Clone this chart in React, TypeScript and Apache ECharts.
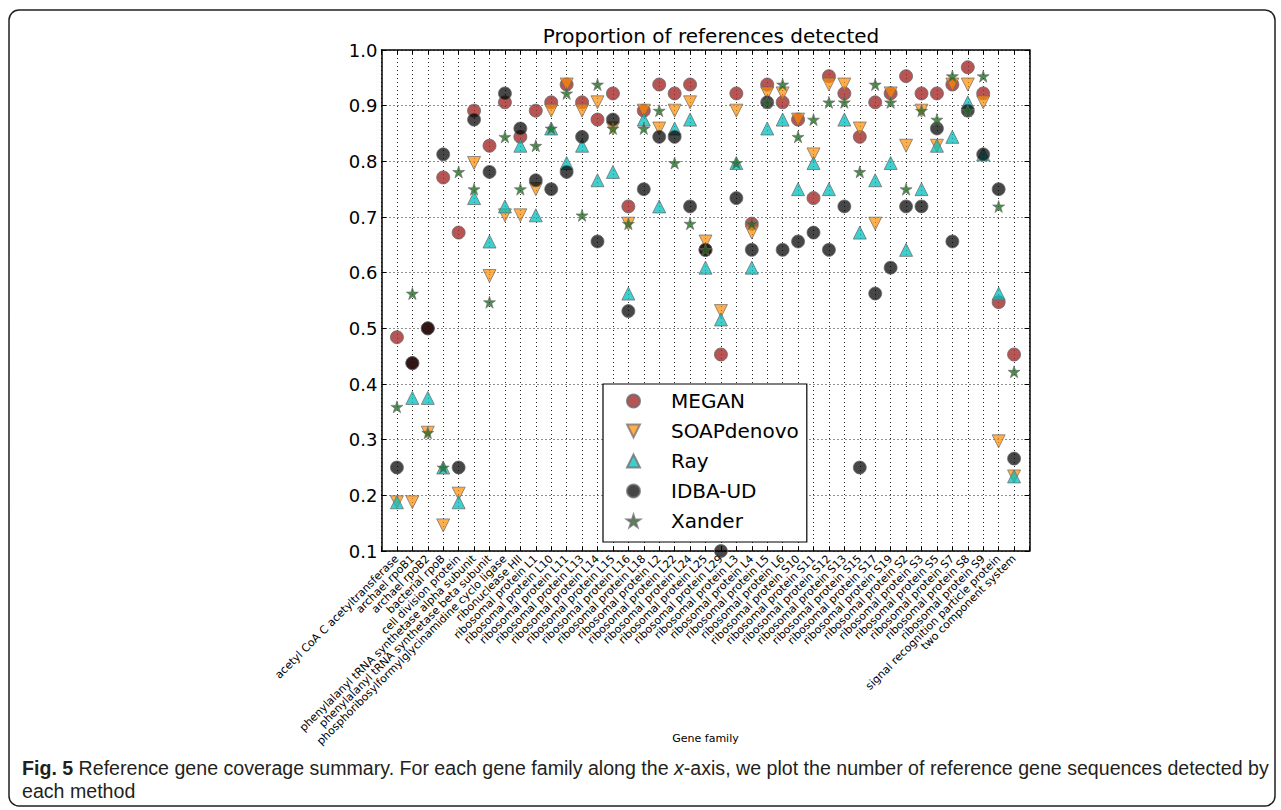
import React, { useEffect, useRef } from "react";
import * as echarts from "echarts";

const CATEGORIES = [
  "acetyl CoA C acetyltransferase",
  "archael rpoB1",
  "archael rpoB2",
  "bacterial rpoB",
  "cell division protein",
  "phenylalanyl tRNA synthetase alpha subunit",
  "phenylalanyl tRNA synthetase beta subunit",
  "phosphoribosylformylglycinamidine cyclo ligase",
  "ribonuclease HII",
  "ribosomal protein L1",
  "ribosomal protein L10",
  "ribosomal protein L11",
  "ribosomal protein L13",
  "ribosomal protein L14",
  "ribosomal protein L15",
  "ribosomal protein L16",
  "ribosomal protein L18",
  "ribosomal protein L2",
  "ribosomal protein L22",
  "ribosomal protein L24",
  "ribosomal protein L25",
  "ribosomal protein L29",
  "ribosomal protein L3",
  "ribosomal protein L4",
  "ribosomal protein L5",
  "ribosomal protein L6",
  "ribosomal protein S10",
  "ribosomal protein S11",
  "ribosomal protein S12",
  "ribosomal protein S13",
  "ribosomal protein S15",
  "ribosomal protein S17",
  "ribosomal protein S19",
  "ribosomal protein S2",
  "ribosomal protein S3",
  "ribosomal protein S5",
  "ribosomal protein S7",
  "ribosomal protein S8",
  "ribosomal protein S9",
  "signal recognition particle protein",
  "two component system",
];

const MEGAN = [
  0.484, 0.4375, 0.5, 0.771, 0.672, 0.891, 0.828, 0.906, 0.844, 0.891,
  0.906, 0.938, 0.906, 0.875, 0.922, 0.719, 0.891, 0.938, 0.922, 0.938,
  0.641, 0.453, 0.922, 0.688, 0.938, 0.906, 0.875, 0.734, 0.953, 0.922,
  0.844, 0.906, 0.922, 0.953, 0.922, 0.922, 0.938, 0.969, 0.922, 0.547,
  0.453,
];
const SOAPDENOVO = [
  0.1875, 0.1875, 0.3125, 0.146, 0.203, 0.797, 0.594, 0.703, 0.703, 0.75,
  0.891, 0.938, 0.891, 0.906, 0.859, 0.688, 0.891, 0.859, 0.891, 0.906,
  0.656, 0.531, 0.891, 0.672, 0.922, 0.922, 0.875, 0.8125, 0.938, 0.938,
  0.859, 0.688, 0.922, 0.828, 0.891, 0.828, 0.938, 0.938, 0.906, 0.297,
  0.234,
];
const RAY = [
  0.1875, 0.375, 0.375, 0.25, 0.1875, 0.734, 0.656, 0.719, 0.828, 0.703,
  0.859, 0.797, 0.828, 0.766, 0.781, 0.5625, 0.875, 0.719, 0.859, 0.875,
  0.609, 0.516, 0.797, 0.609, 0.859, 0.875, 0.75, 0.797, 0.75, 0.875,
  0.672, 0.766, 0.797, 0.641, 0.75, 0.828, 0.844, 0.906, 0.8125, 0.5625,
  0.234,
];
const IDBA_UD = [
  0.25, 0.4375, 0.5, 0.8125, 0.25, 0.875, 0.781, 0.922, 0.859, 0.766,
  0.75, 0.781, 0.844, 0.656, 0.875, 0.531, 0.75, 0.844, 0.844, 0.719,
  0.641, 0.1, 0.734, 0.641, 0.906, 0.641, 0.656, 0.672, 0.641, 0.719,
  0.25, 0.5625, 0.609, 0.719, 0.719, 0.859, 0.656, 0.891, 0.8125, 0.75,
  0.266,
];
const XANDER = [
  0.359, 0.5625, 0.3125, 0.25, 0.781, 0.75, 0.547, 0.844, 0.75, 0.828,
  0.859, 0.922, 0.703, 0.938, 0.859, 0.688, 0.859, 0.891, 0.797, 0.688,
  0.641, null, 0.797, 0.688, 0.906, 0.938, 0.844, 0.875, 0.906, 0.906,
  0.781, 0.938, 0.906, 0.75, 0.891, 0.875, 0.953, 0.891, 0.953, 0.719,
  0.422,
];

const Y_RANGE = [0.1, 1.0];

const STAR =
  "path://M50,0 L61.2,34.5 L97.6,34.5 L68.2,55.9 L79.4,90.5 L50,69.1 L20.6,90.5 L31.8,55.9 L2.4,34.5 L38.8,34.5 Z";
const TRI_DOWN = "path://M0,0 L100,0 L50,100 Z";

const pairs = (vals: (number | null)[]) =>
  vals
    .map((v, i) => (v == null ? null : [i, v]))
    .filter((p) => p !== null);

const AXIS_FONT = "DejaVu Sans";
const CAPTION_FONT = "Liberation Sans";

export default function App() {
  const ref = useRef<HTMLDivElement>(null);
  useEffect(() => {
    if (!ref.current) return;
    const chart = echarts.init(ref.current, null, { renderer: "svg" });
    const markerBorder = { borderColor: "#6a6a6a", borderWidth: 1 };
    const xCommon = {
      type: "value",
      min: -1,
      max: CATEGORIES.length,
      interval: 1,
    };
    const yCommon = {
      type: "value",
      min: Y_RANGE[0],
      max: Y_RANGE[1],
      interval: 0.1,
    };
    chart.setOption({
      animation: false,
      backgroundColor: "#ffffff",
      title: {
        text: "Proportion of references detected",
        left: 706,
        top: 21,
        textAlign: "center",
        textStyle: {
          fontFamily: AXIS_FONT,
          fontSize: 20,
          fontWeight: "normal",
          color: "#000",
        },
      },
      grid: { left: 381.5, top: 50, width: 648, height: 501 },
      xAxis: [
        {
          ...xCommon,
          position: "bottom",
          name: "Gene family",
          nameLocation: "middle",
          nameGap: 182,
          nameMoveOverlap: false,
          nameTextStyle: { fontFamily: AXIS_FONT, fontSize: 11, color: "#000" },
          axisLine: { onZero: false, lineStyle: { color: "#000", width: 1.5 } },
          axisTick: { inside: true, length: 4, lineStyle: { color: "#000" } },
          axisLabel: {
            rotate: 45,
            margin: 6,
            fontFamily: AXIS_FONT,
            fontSize: 11,
            color: "#000",
            formatter: (v: number) => {
              const i = Math.round(v);
              return i >= 0 && i < CATEGORIES.length ? CATEGORIES[i] : "";
            },
          },
          splitLine: {
            show: true,
            lineStyle: { color: "#222", width: 1, type: [1, 3] },
          },
        },
        {
          ...xCommon,
          position: "top",
          axisLine: { onZero: false, lineStyle: { color: "#000", width: 1.5 } },
          axisTick: { inside: true, length: 4, lineStyle: { color: "#000" } },
          axisLabel: { show: false },
          splitLine: { show: false },
        },
      ],
      yAxis: [
        {
          ...yCommon,
          position: "left",
          axisLine: { show: true, onZero: false, lineStyle: { color: "#000", width: 1.5 } },
          axisTick: { show: true, inside: true, length: 5, lineStyle: { color: "#000" } },
          axisLabel: {
            margin: 4,
            fontFamily: AXIS_FONT,
            fontSize: 18,
            color: "#000",
            formatter: (v: number) => v.toFixed(1),
          },
          splitLine: {
            show: true,
            lineStyle: { color: "#222", width: 1, type: [1, 3] },
          },
        },
        {
          ...yCommon,
          position: "right",
          axisLine: { show: true, onZero: false, lineStyle: { color: "#000", width: 1.5 } },
          axisTick: { show: true, inside: true, length: 5, lineStyle: { color: "#000" } },
          axisLabel: { show: false },
          splitLine: { show: false },
        },
      ],
      legend: {
        orient: "vertical",
        left: 603,
        top: 384,
        padding: [7, 8, 11, 23],
        itemGap: 10,
        itemWidth: 13,
        itemHeight: 13,
        backgroundColor: "#ffffff",
        borderColor: "#000",
        borderWidth: 1.2,
        z: 10,
        textStyle: {
          fontFamily: AXIS_FONT,
          fontSize: 20,
          lineHeight: 20,
          color: "#000",
          padding: [0, 0, 0, 26],
        },
        data: ["MEGAN", "SOAPdenovo", "Ray", "IDBA-UD", "Xander"],
      },
      series: [
        {
          type: "scatter",
          name: "MEGAN",
          data: pairs(MEGAN),
          symbol: "circle",
          symbolSize: 13,
          itemStyle: { color: "#a52a2a", opacity: 0.8, ...markerBorder },
        },
        {
          type: "scatter",
          name: "SOAPdenovo",
          data: pairs(SOAPDENOVO),
          symbol: TRI_DOWN,
          symbolSize: 13,
          itemStyle: { color: "#ff8c00", opacity: 0.7, ...markerBorder },
        },
        {
          type: "scatter",
          name: "Ray",
          data: pairs(RAY),
          symbol: "triangle",
          symbolSize: 13,
          itemStyle: { color: "#00bfbf", opacity: 0.75, ...markerBorder },
        },
        {
          type: "scatter",
          name: "IDBA-UD",
          data: pairs(IDBA_UD),
          symbol: "circle",
          symbolSize: 13,
          clip: false,
          itemStyle: { color: "#000000", opacity: 0.72, ...markerBorder },
        },
        {
          type: "scatter",
          name: "Xander",
          data: pairs(XANDER),
          symbol: STAR,
          symbolSize: 12,
          itemStyle: { color: "#1e6a1e", opacity: 0.78, borderColor: "#6a6a6a", borderWidth: 0.8 },
        },
      ],
      graphic: [
        {
          type: "rect",
          shape: { x: 9, y: 10, width: 1266, height: 796, r: 10 },
          style: { fill: "none", stroke: "#231f20", lineWidth: 1.5 },
          z: 0,
        },
        {
          type: "text",
          x: 22,
          y: 768,
          style: {
            text:
              "{b|Fig. 5} Reference gene coverage summary. For each gene family along the {i|x}-axis, we plot the number of reference gene sequences detected by",
            fontFamily: CAPTION_FONT,
            fontSize: 19.6,
            fill: "#231f20",
            verticalAlign: "middle",
            rich: {
              b: { fontWeight: "bold", fontFamily: CAPTION_FONT, fontSize: 19.6, fill: "#231f20" },
              i: { fontStyle: "italic", fontFamily: CAPTION_FONT, fontSize: 19.6, fill: "#231f20" },
            },
          },
        },
        {
          type: "text",
          x: 22,
          y: 791,
          style: {
            text: "each method",
            fontFamily: CAPTION_FONT,
            fontSize: 19.6,
            fill: "#231f20",
            verticalAlign: "middle",
          },
        },
      ],
    });
    return () => chart.dispose();
  }, []);
  return (
    <div
      ref={ref}
      style={{ position: "absolute", left: 0, top: 0, width: 1281, height: 810 }}
    />
  );
}
